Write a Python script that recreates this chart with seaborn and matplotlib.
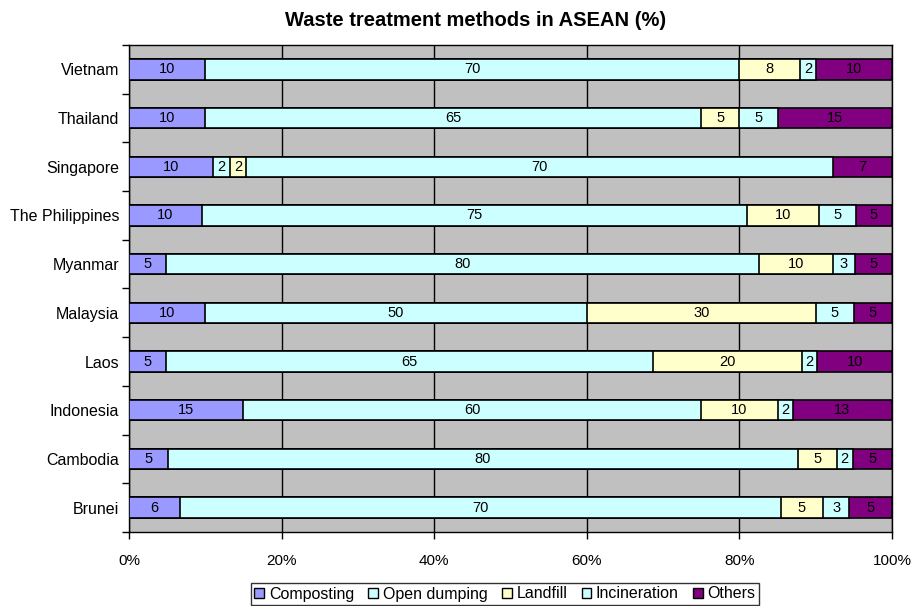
import matplotlib
matplotlib.use("Agg")
import matplotlib.pyplot as plt
import matplotlib.ticker as mticker
from matplotlib.patches import Patch
import seaborn as sns
import pandas as pd
import numpy as np

countries = ["Vietnam", "Thailand", "Singapore", "The Philippines", "Myanmar",
             "Malaysia", "Laos", "Indonesia", "Cambodia", "Brunei"]
composting   = [10, 10, 10, 10, 5, 10, 5, 15, 5, 6]
open_dumping = [70, 65, 2, 75, 80, 50, 65, 60, 80, 70]
landfill     = [8, 5, 2, 10, 10, 30, 20, 10, 5, 5]
incineration = [2, 5, 70, 5, 3, 5, 2, 2, 2, 3]
others       = [10, 15, 7, 5, 5, 5, 10, 13, 5, 5]

series_names = ["Composting", "Open dumping", "Landfill", "Incineration", "Others"]
series_colors = ["#9999FF", "#CCFFFF", "#FFFFCC", "#CCFFFF", "#800080"]

df = pd.DataFrame({"Country": countries,
                   "Composting": composting,
                   "Open dumping": open_dumping,
                   "Landfill": landfill,
                   "Incineration": incineration,
                   "Others": others})

raw = df[series_names].astype(float)
pct = raw.div(raw.sum(axis=1), axis=0) * 100
cum = pct.cumsum(axis=1)

sns.set_theme(style="white")
plt.rcParams["font.family"] = ["Liberation Sans", "DejaVu Sans"]
plt.rcParams["text.color"] = "black"
plt.rcParams["axes.labelcolor"] = "black"
plt.rcParams["xtick.color"] = "black"
plt.rcParams["ytick.color"] = "black"

fig = plt.figure(figsize=(9.19, 6.06), dpi=100)
ax = fig.add_axes([129/919, 1-532/606, (892-129)/919, (532-45)/606])
ax.set_facecolor("#C0C0C0")

# draw cumulative layers from last to first
for i in reversed(range(len(series_names))):
    plot_df = pd.DataFrame({"Country": countries, "x": cum.iloc[:, i].values})
    sns.barplot(data=plot_df, x="x", y="Country", order=countries, orient="h",
                color=series_colors[i], saturation=1, width=0.42,
                edgecolor="black", linewidth=1.2, ax=ax, zorder=3)

# value labels
for r in range(len(countries)):
    for i, name in enumerate(series_names):
        left = cum.iloc[r, i] - pct.iloc[r, i]
        center = left + pct.iloc[r, i] / 2
        ax.text(center, r, f"{int(raw.iloc[r, i])}", ha="center", va="center",
                fontsize=10.5, color="black", zorder=5)

ax.set_xlim(0, 100)
ax.set_ylim(len(countries) - 0.5, -0.5)
ax.xaxis.set_major_locator(mticker.MultipleLocator(20))
ax.xaxis.set_major_formatter(mticker.FuncFormatter(lambda v, p: f"{int(v)}%"))
ax.grid(axis="x", color="black", linewidth=1, zorder=0)
ax.set_axisbelow(True)
ax.set_xlabel("")
ax.set_ylabel("")

ax.set_yticks(range(len(countries)))
ax.set_yticklabels(countries)
ax.set_yticks(np.arange(-0.5, len(countries), 1), minor=True)
ax.tick_params(axis="y", which="major", length=0, pad=7, labelsize=11.5, labelcolor="black")
ax.tick_params(axis="y", which="minor", length=5, width=1, color="black", left=True, direction="out")
ax.tick_params(axis="x", which="major", length=5, width=1, color="black", bottom=True,
               direction="out", pad=11, labelsize=11, labelcolor="black")
for sp in ax.spines.values():
    sp.set_color("black")
    sp.set_linewidth(1)

fig.text(476/919, 1-21/606, "Waste treatment methods in ASEAN (%)",
         ha="center", va="center", fontsize=14.5, fontweight="bold", color="black")

handles = [Patch(facecolor=c, edgecolor="black", linewidth=1, label=n)
           for n, c in zip(series_names, series_colors)]
leg = fig.legend(handles=handles, loc="center", bbox_to_anchor=(505/919, 1-594/606),
                 ncol=5, frameon=True, fontsize=11.5, handlelength=0.6, handleheight=0.6,
                 handletextpad=0.3, columnspacing=0.9, borderpad=0.2, fancybox=False,
                 labelcolor="black")
leg.get_frame().set_edgecolor("black")
leg.get_frame().set_linewidth(1)

fig.savefig("out.png", dpi=100)
